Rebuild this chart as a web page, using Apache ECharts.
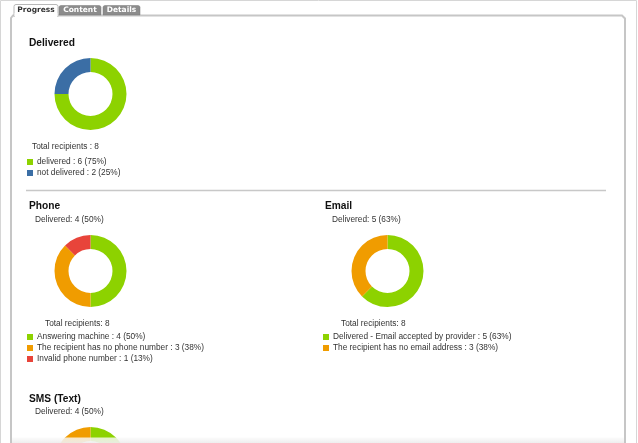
<!DOCTYPE html>
<html>
<head>
<meta charset="utf-8">
<script src="https://cdn.jsdelivr.net/npm/echarts@6/dist/echarts.min.js"></script>
<style>
  html, body { margin: 0; padding: 0; background: #fff; }
  #main { width: 638px; height: 443px; }
</style>
</head>
<body>
<div id="main"></div>
<script>
// data
var deliveredNames = ['delivered', 'not delivered'];
var deliveredValues = [6, 2];

var phoneNames = ['Answering machine', 'The recipient has no phone number', 'Invalid phone number'];
var phoneValues = [4, 3, 1];

var emailNames = ['Delivered - Email accepted by provider', 'The recipient has no email address'];
var emailValues = [5, 3];

var smsNames = ['Text message delivered', 'The recipient has no mobile number'];
var smsValues = [4, 4];

var tabLabels = ['Progress', 'Content', 'Details'];

var GREEN = '#8dd200', BLUE = '#3b6ea5', ORANGE = '#f09c00', RED = '#e8443a';

function sum(arr) {
    var s = 0;
    for (var i = 0; i < arr.length; i++) s += arr[i];
    return s;
}
function pct(v, total) {
    return Math.round(v / total * 100);
}

// name -> "value (pct%)" lookup for legends
var lookup = {};
function register(names, values) {
    var total = sum(values);
    for (var i = 0; i < names.length; i++) {
        lookup[names[i]] = values[i] + ' (' + pct(values[i], total) + '%)';
    }
}
register(deliveredNames, deliveredValues);
register(phoneNames, phoneValues);
register(emailNames, emailValues);
register(smsNames, smsValues);

function toData(names, values, colors) {
    var out = [];
    for (var i = 0; i < names.length; i++) {
        out.push({ name: names[i], value: values[i], itemStyle: { color: colors[i] } });
    }
    return out;
}

function donut(center, names, values, colors) {
    return {
        type: 'pie',
        center: center,
        radius: [22, 36],
        startAngle: 90,
        clockwise: true,
        label: { show: false },
        labelLine: { show: false },
        emphasis: { disabled: true },
        silent: true,
        itemStyle: { borderWidth: 0 },
        data: toData(names, values, colors)
    };
}

function legend(left, top, names) {
    return {
        orient: 'vertical',
        left: left,
        top: top,
        padding: 0,
        itemGap: 0,
        itemWidth: 6,
        itemHeight: 6,
        icon: 'rect',
        selectedMode: false,
        data: names,
        formatter: function (name) { return name + ' : ' + lookup[name]; },
        textStyle: { fontFamily: 'Liberation Sans', fontSize: 8.3, color: '#333', lineHeight: 11, padding: [0, 0, 0, -1] }
    };
}

function txt(x, y, s, size, bold, color) {
    return {
        type: 'text',
        x: x, y: y,
        style: {
            text: s,
            fontFamily: 'Liberation Sans',
            fontSize: size,
            fontWeight: bold ? 'bold' : 'normal',
            fill: color || '#333',
            verticalAlign: 'middle'
        },
        z: 10
    };
}

var deliveredTotal = sum(deliveredValues);
var phoneTotal = sum(phoneValues);
var emailTotal = sum(emailValues);
var smsTotal = sum(smsValues);

var tabX = [[59, 101], [103, 140]];

var graphics = [
    // outer frame
    { type: 'rect', shape: { x: 0.5, y: 0.5, width: 636, height: 450 }, style: { fill: 'none', stroke: '#d6d6d6', lineWidth: 1 }, z: 1 },
    // panel
    { type: 'polyline', shape: { points: [[11, 450], [11, 18], [13, 15.5], [622, 15.5], [625, 18.5], [625, 450]] },
      style: { fill: 'none', stroke: '#c6c6c6', lineWidth: 2 }, z: 2 },
    // active tab
    { type: 'rect', shape: { x: 14, y: 4.5, width: 44, height: 12, r: [2, 2, 0, 0] },
      style: { fill: '#fff', stroke: '#b8b8b8', lineWidth: 1 }, z: 3 },
    { type: 'rect', shape: { x: 14.6, y: 13, width: 42.8, height: 5 }, style: { fill: '#fff' }, z: 4 },
    { type: 'text', x: 36, y: 10.5, style: { text: tabLabels[0], fontFamily: 'DejaVu Sans', fontSize: 7.5, fontWeight: 'bold', fill: '#333', align: 'center', verticalAlign: 'middle' }, z: 5 },
    // separator
    { type: 'line', shape: { x1: 26, y1: 190.5, x2: 606, y2: 190.5 }, style: { stroke: '#c8c8c8', lineWidth: 1.5 }, z: 2 },
    // texts
    txt(29, 43, 'Delivered', 10.2, true, '#111'),
    txt(32, 147, 'Total recipients : ' + deliveredTotal, 8.3),
    txt(29, 206, 'Phone', 10.2, true, '#111'),
    txt(35, 220, 'Delivered: ' + phoneValues[0] + ' (' + pct(phoneValues[0], phoneTotal) + '%)', 8.3),
    txt(45, 324, 'Total recipients: ' + phoneTotal, 8.3),
    txt(325, 206, 'Email', 10.2, true, '#111'),
    txt(332, 220, 'Delivered: ' + emailValues[0] + ' (' + pct(emailValues[0], emailTotal) + '%)', 8.3),
    txt(341, 324, 'Total recipients: ' + emailTotal, 8.3),
    txt(29, 399, 'SMS (Text)', 10.2, true, '#111'),
    txt(35, 412, 'Delivered: ' + smsValues[0] + ' (' + pct(smsValues[0], smsTotal) + '%)', 8.3),
    // bottom fade
    { type: 'rect', shape: { x: 12, y: 437.5, width: 612, height: 6 },
      style: { fill: { type: 'linear', x: 0, y: 0, x2: 0, y2: 1, colorStops: [{ offset: 0, color: 'rgba(250,250,250,0.8)' }, { offset: 1, color: 'rgba(236,236,236,0.95)' }] } }, z: 20 }
];

for (var i = 0; i < tabX.length; i++) {
    var x0 = tabX[i][0], x1 = tabX[i][1];
    graphics.push({ type: 'rect', shape: { x: x0, y: 5.5, width: x1 - x0, height: 9.5, r: [2, 2, 0, 0] },
        style: { fill: '#8c8c8c', stroke: '#7a7a7a', lineWidth: 0.5 }, z: 3 });
    graphics.push({ type: 'text', x: (x0 + x1) / 2, y: 10.5,
        style: { text: tabLabels[i + 1], fontFamily: 'DejaVu Sans', fontSize: 7.5, fontWeight: 'bold', fill: '#fff', align: 'center', verticalAlign: 'middle' }, z: 5 });
}

var myChart = echarts.init(document.getElementById('main'));
myChart.setOption({
    animation: false,
    backgroundColor: '#fff',
    legend: [
        legend(27, 156.5, deliveredNames),
        legend(27, 331.5, phoneNames),
        legend(323, 331.5, emailNames)
    ],
    graphic: graphics,
    series: [
        donut([90.5, 94], deliveredNames, deliveredValues, [GREEN, BLUE]),
        donut([90.5, 271], phoneNames, phoneValues, [GREEN, ORANGE, RED]),
        donut([387.5, 271], emailNames, emailValues, [GREEN, ORANGE]),
        donut([90.5, 463], smsNames, smsValues, [GREEN, ORANGE])
    ]
});
</script>
</body>
</html>
